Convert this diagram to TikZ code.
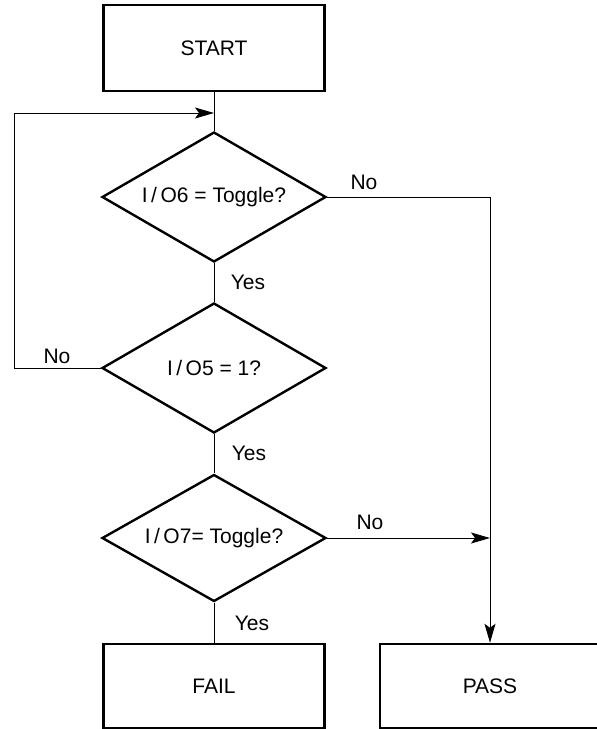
\documentclass[tikz,border=0pt]{standalone}
\usepackage{fontspec}
\setmainfont{Liberation Sans}
\usepackage{tikz}
\usetikzlibrary{positioning,arrows.meta,shapes.geometric}

\begin{document}
\begin{tikzpicture}[
  x=0.5pt, y=-0.5pt,
  every node/.style={font=\fontsize{10.5pt}{12pt}\selectfont},
  box/.style={draw, line width=1.2pt, minimum width=110.5pt,
    minimum height=43pt, inner sep=0pt},
  test/.style={draw, diamond, aspect=1.7, line width=1.2pt,
    minimum width=112pt, minimum height=65pt, inner sep=0pt},
  flow/.style={line width=0.5pt},
  arrow/.style={flow, -{Stealth[length=9.5pt, width=5.5pt, inset=2pt]}},
  answer/.style={inner sep=0pt},
]

% Frame
\useasboundingbox (0,0) rectangle (597,729);

% Boxes
\node[box] (start) at (214,48) {START};
\node[box, minimum height=42pt] (fail) at (214,686) {FAIL};
\node[box, minimum width=110pt, minimum height=42pt] (pass) at (490,686) {PASS};

% Tests
\node[test] (io6) at (214,197) {I\,/\,O6 = Toggle?};
\node[test] (io5) at (214,368) {I\,/\,O5 = 1?};
\node[test, minimum height=63.5pt] (io7) at (214,538) {I\,/\,O7= Toggle?};

% Join points
\coordinate (join) at (214,113);
\coordinate (loop) at (14,113);
\coordinate (merge) at (io7.east -| pass.north);

% Flow lines
\draw[flow] (start) -- (io6);
\draw[flow] (io6) -- (io5);
\draw[flow] (io5) -- (io7);
\draw[flow] (io7) -- (fail);
\draw[flow] (io5.west) -| (loop);
\draw[arrow] (loop) -- (join);
\draw[arrow] (io6.east) -| (pass.north);
\draw[arrow] (io7.east) -- (merge);

% Answers
\node[answer] (no6) at (364,182) {No};
\node[answer] (yes6) at (248,282) {Yes};
\node[answer] (no5) at (57,356) {No};
\node[answer] (yes5) at (249,453) {Yes};
\node[answer] (no7) at (370,522) {No};
\node[answer] (yes7) at (252,623) {Yes};

\end{tikzpicture}
\end{document}
